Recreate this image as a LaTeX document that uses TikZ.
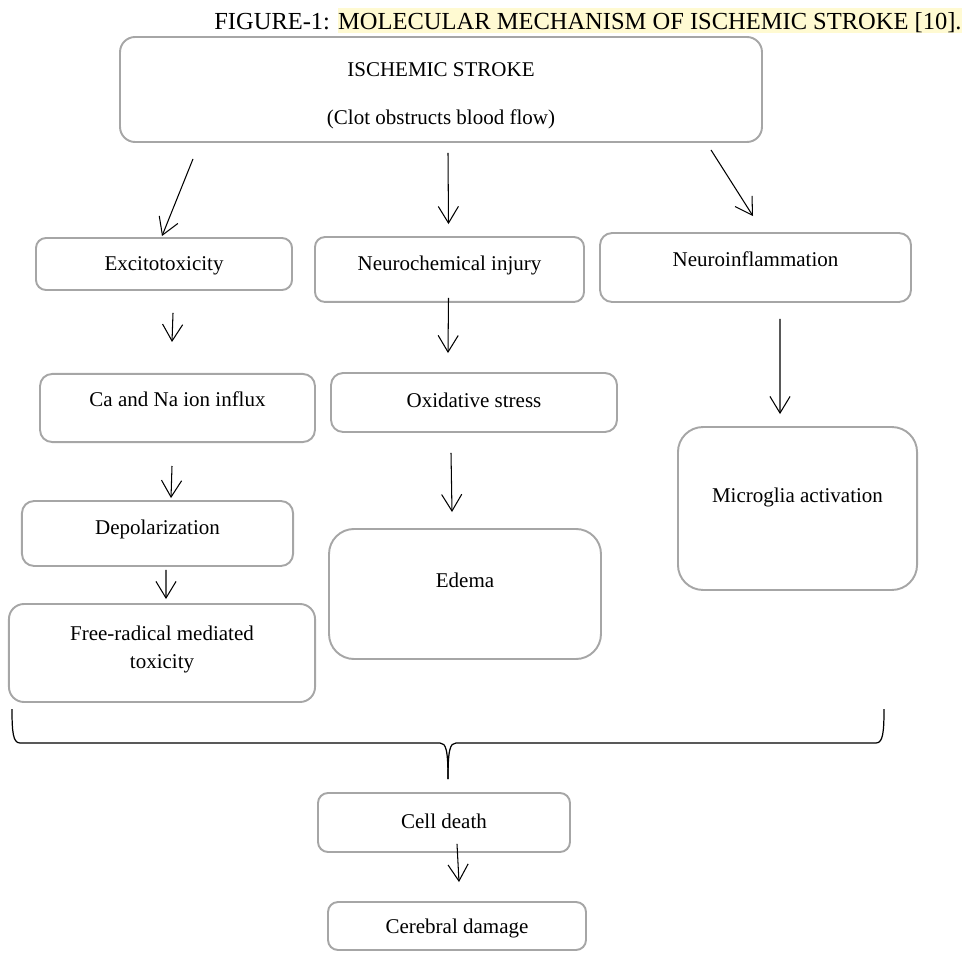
\documentclass[tikz,border=0pt]{standalone}
\usepackage{fontspec}
\setmainfont{Liberation Serif}
\usepackage{tikz}
\usetikzlibrary{arrows.meta}
\definecolor{boxgray}{HTML}{A6A6A6}
\definecolor{hlyellow}{HTML}{FFFAD2}

\begin{document}
\begin{tikzpicture}[x=0.5714pt,y=-0.5714pt,
	flow node/.style={rectangle,rounded corners=5.7pt,draw=boxgray,line width=1.1pt,inner sep=0pt,align=center,text height=9pt,text depth=1pt,font=\fontsize{12}{16}\selectfont},
	flow arrow/.style={-{Straight Barb[length=9.5pt,width=11.5pt]},line width=0.6pt,black}]
				
				\useasboundingbox (0,0) rectangle (973,956);
				
				\node[anchor=base,font=\fontsize{14}{17}\selectfont] (title) at (588,30) {FIGURE-1: {\setlength{\fboxsep}{0pt}\colorbox{hlyellow}{\rule[-1.8pt]{0pt}{14.4pt}MOLECULAR MECHANISM OF ISCHEMIC STROKE [10].}}};
				
				\node[flow node,rounded corners=8.6pt,minimum width=366.8pt,minimum height=60pt,text height=40.6pt] (1) at (441,89.5) {ISCHEMIC STROKE\\[11pt](Clot obstructs blood flow)};
				\node[flow node,minimum width=146.3pt,minimum height=29.7pt] (2) at (164,264) {Excitotoxicity};
				\node[flow node,minimum width=153.7pt,minimum height=37.1pt,text depth=7.3pt] (3) at (449.5,269.5) {Neurochemical injury};
				\node[flow node,rounded corners=6.9pt,minimum width=177.7pt,minimum height=39.4pt,text depth=9.6pt] (4) at (755.5,267.5) {Neuroinflammation};
				\node[flow node,rounded corners=6.9pt,minimum width=157.1pt,minimum height=38.9pt,text depth=10.2pt] (5) at (177.5,408) {Ca and Na ion influx};
				\node[flow node,rounded corners=6.9pt,minimum width=163.4pt,minimum height=33.7pt,text depth=3.8pt] (6) at (474,402.5) {Oxidative stress};
				\node[flow node,rounded corners=6.9pt,minimum width=154.9pt,minimum height=37.1pt,text depth=7.3pt] (7) at (157.5,533.5) {Depolarization};
				\node[flow node,rounded corners=8.6pt,minimum width=174.9pt,minimum height=56pt,text height=18.2pt] (8) at (162,653) {Free-radical mediated\\toxicity};
				\node[flow node,rounded corners=14.3pt,minimum width=155.4pt,minimum height=74.3pt,text depth=17pt] (9) at (465,594) {Edema};
				\node[flow node,rounded corners=14.3pt,minimum width=136.6pt,minimum height=93.1pt,text depth=15.8pt] (10) at (797.5,508.5) {Microglia activation};
				\node[flow node,minimum width=144pt,minimum height=33.7pt,text depth=2.7pt] (11) at (444,822.5) {Cell death};
				\node[flow node,minimum width=147.4pt,minimum height=27.4pt] (12) at (457,926) {Cerebral damage};
				
				\path[flow arrow] ([shift={(-248,16)}]1.south) edge ([shift={(-2,-1)}]2.north);
				\path[flow arrow] ([shift={(7,10)}]1.south) edge ([shift={(-1,-12)}]3.north);
				\path[flow arrow] ([shift={(270,7)}]1.south) edge ([shift={(-2.5,-16)}]4.north);
				\path[flow arrow] ([shift={(9,22)}]2.south) edge ([shift={(-5.5,-31)}]5.north);
				\path[flow arrow] ([shift={(-5.5,23)}]5.south) edge ([shift={(13.5,-2)}]7.north);
				\path[flow arrow] ([shift={(8.5,3)}]7.south) edge ([shift={(4,-4)}]8.north);
				\path[flow arrow] ([shift={(-1,-5)}]3.south) edge ([shift={(-26,-19)}]6.north);
				\path[flow arrow] ([shift={(-23,20)}]6.south) edge ([shift={(-13,-16)}]9.north);
				\path[flow arrow] ([shift={(24.5,16)}]4.south) edge ([shift={(-17.5,-12)}]10.north);
				\path[flow arrow] ([shift={(13,-9)}]11.south) edge ([shift={(2,-19)}]12.north);
				
				\coordinate (tip) at (448,779);
				\draw[line width=0.7pt] (12,709) .. controls (12,732) and (13,743) .. (20,743) -- (440,743) .. controls (446,743) and (448,750) .. (tip);
				\draw[line width=0.7pt] (884,709) .. controls (884,732) and (883,743) .. (876,743) -- (456,743) .. controls (450,743) and (448,750) .. (tip);
				
				\end{tikzpicture}
\end{document}
